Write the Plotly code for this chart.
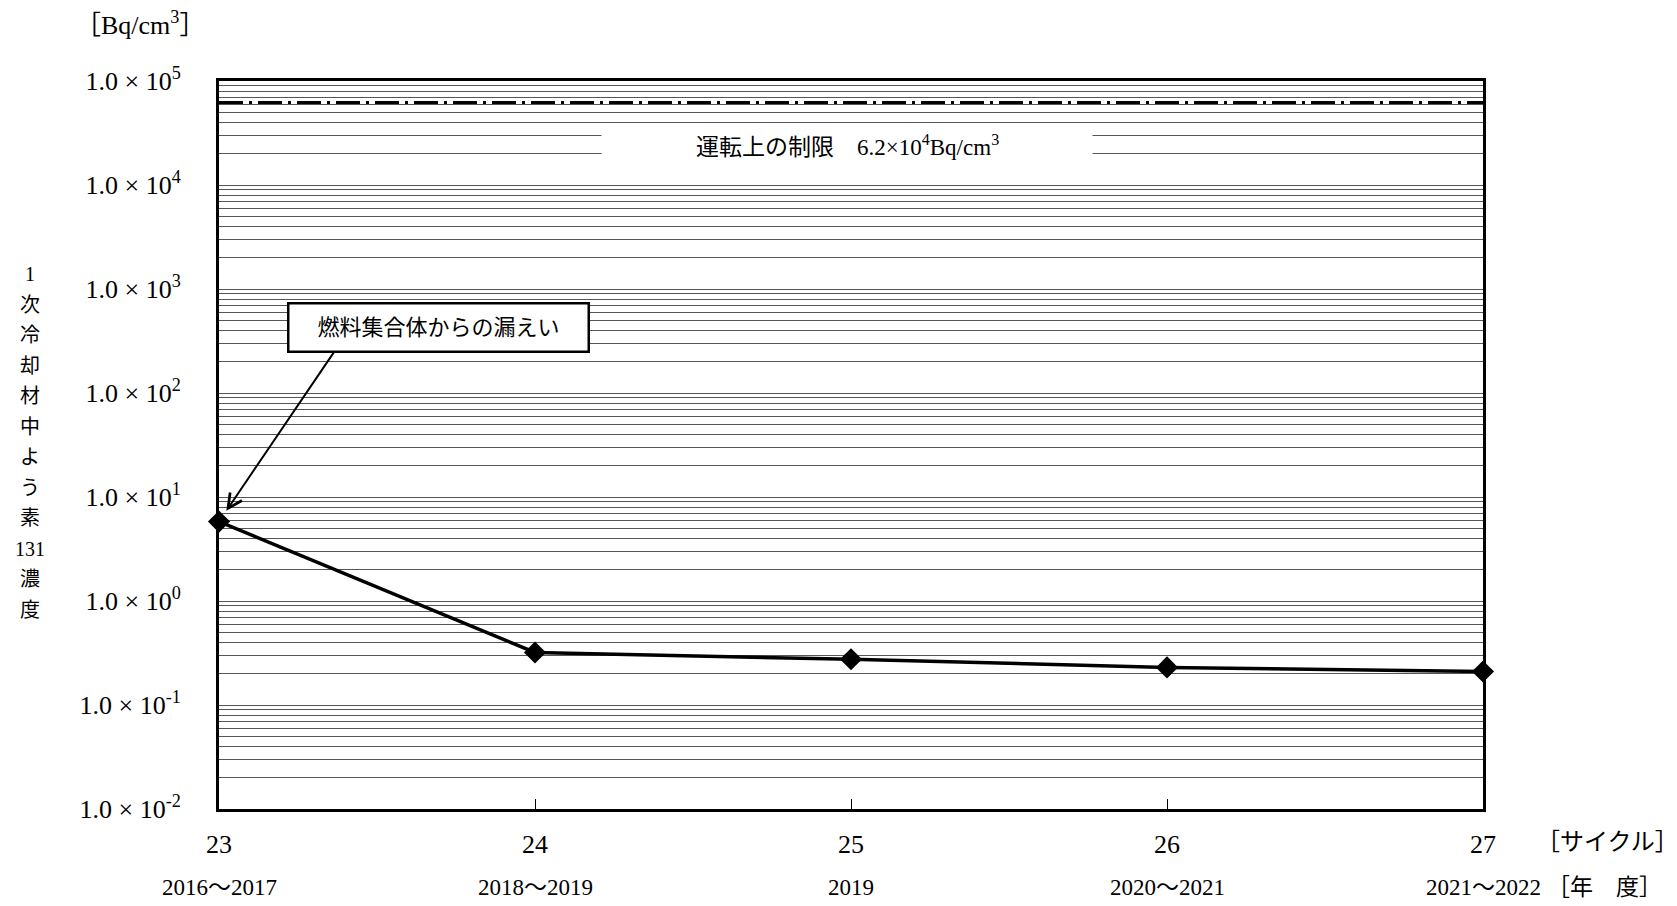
import math
import plotly.graph_objects as go

# ---- data ----
cycles = [23, 24, 25, 26, 27]
cycle_labels = ["23", "24", "25", "26", "27"]
years = ["2016～2017", "2018～2019", "2019", "2020～2021", "2021～2022"]
i131 = [5.8, 0.32, 0.275, 0.23, 0.21]
limit_value = 6.2e4
decade_exponents = [-2, -1, 0, 1, 2, 3, 4, 5]
ytitle_chars = ["1", "次", "冷", "却", "材", "中", "よ", "う", "素", "131", "濃", "度"]

SERIF = "Liberation Serif, Noto Sans CJK JP"

# grid values: all 1..9 x 10^n within range
tickvals, ticktext = [], []
for e in decade_exponents:
    for m in range(1, 10):
        v = m * 10 ** e
        if v > 10 ** decade_exponents[-1] * 1.0001:
            break
        tickvals.append(v)
        ticktext.append(f"1.0 × 10<sup>{e}</sup>" if m == 1 else "")

fig = go.Figure()

# operational limit line
fig.add_trace(go.Scatter(
    x=[cycles[0], cycles[-1]], y=[limit_value, limit_value],
    mode="lines", line=dict(color="black", width=3, dash="24px,6px,3px,6px"),
    hoverinfo="skip", showlegend=False))

# I-131 concentration
fig.add_trace(go.Scatter(
    x=cycles, y=i131, mode="lines+markers",
    line=dict(color="black", width=3.5),
    marker=dict(symbol="diamond", size=17, color="black"),
    cliponaxis=False, showlegend=False))

OFF = 7  # page body margin
W, H = 1677 - OFF, 906 - OFF
PL, PR, PT, PB = 218, 1482, 80, 808  # plot area in screen pixels
ml, mt = PL - OFF, PT - OFF
mr = W - ml - (PR - PL)
mb = H - mt - (PB - PT)

def px_x(x):
    return (x - PL) / (PR - PL)

def px_y(y):
    return (PB - y) / (PB - PT)

annotations = []

def ann(**kw):
    kw.setdefault("showarrow", False)
    kw.setdefault("xanchor", "center")
    kw.setdefault("yanchor", "middle")
    annotations.append(kw)

# white box hiding gridlines behind the limit text
ann(xref="paper", yref="paper", x=px_x(846), y=px_y(150), text="",
    bgcolor="white", width=488, height=46)
# limit text
ann(xref="paper", yref="paper", x=px_x(846), y=px_y(144),
    text="運転上の制限　6.2×10<sup>4</sup>Bq/cm<sup>3</sup>",
    font=dict(family=SERIF, size=23, color="black"))

# callout box
ann(xref="paper", yref="paper", x=px_x(437), y=px_y(326),
    text="燃料集合体からの漏えい",
    bgcolor="white", bordercolor="black", borderwidth=2.5, borderpad=2,
    width=294, height=42,
    font=dict(family=SERIF, size=22, color="black"))

# callout arrow (log axis: annotation y in log10 units)
ann(xref="x", yref="y", x=cycles[0], y=math.log10(i131[0]), text="",
    showarrow=True, ax=116, ay=-171, standoff=13,
    arrowhead=5, arrowsize=1.4, arrowwidth=2, arrowcolor="black")

# unit label
ann(xref="paper", yref="paper", x=px_x(72), y=px_y(22), xanchor="left",
    text="［Bq/cm<sup>3</sup>］",
    font=dict(family=SERIF, size=26, color="black"))

# vertical y title
for i, ch in enumerate(ytitle_chars):
    ann(xref="paper", yref="paper", x=px_x(29), y=px_y(273 + i * 30.5),
        text=ch, font=dict(family=SERIF, size=20, color="black"))

# year labels
for c, yr in zip(cycles, years):
    ann(xref="x", yref="paper", x=c, y=px_y(886), text=yr,
        font=dict(family=SERIF, size=23, color="black"))

ann(xref="paper", yref="paper", x=px_x(1533), y=px_y(841), xanchor="left",
    text="［サイクル］", font=dict(family=SERIF, size=24, color="black"))
ann(xref="paper", yref="paper", x=px_x(1544), y=px_y(886), xanchor="left",
    text="［年　度］", font=dict(family=SERIF, size=23, color="black"))

fig.update_layout(
    width=W, height=H, autosize=False,
    margin=dict(l=ml, r=mr, t=mt, b=mb, pad=0),
    paper_bgcolor="white", plot_bgcolor="white",
    font=dict(family=SERIF, color="black"),
    annotations=annotations,
    xaxis=dict(
        range=[cycles[0], cycles[-1]], tickvals=cycles, ticktext=cycle_labels,
        ticks="inside", ticklen=10, tickwidth=1, tickcolor="black",
        showgrid=False, zeroline=False,
        showline=True, linecolor="black", linewidth=3, mirror=True,
        tickfont=dict(family=SERIF, size=26, color="black"),
        ticklabelstandoff=10),
    yaxis=dict(
        type="log", range=[decade_exponents[0], decade_exponents[-1]],
        tickvals=tickvals, ticktext=ticktext, ticks="",
        showgrid=True, gridcolor="#555", gridwidth=1, zeroline=False,
        showline=True, linecolor="black", linewidth=3, mirror=True,
        tickfont=dict(family=SERIF, size=26, color="black"),
        ticklabelstandoff=30),
)

fig.write_html("out.html")
